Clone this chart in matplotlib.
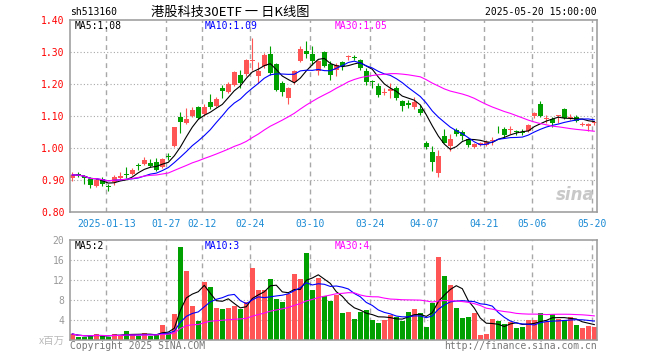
import numpy as np
import pandas as pd
import matplotlib
matplotlib.use("Agg")
import matplotlib.pyplot as plt

# daily K data, 2025-01-03 .. 2025-05-20 (88 trading days)
open_ = [0.906, 0.918, 0.912, 0.902, 0.881, 0.902, 0.879, 0.894, 0.906, 0.919,
         0.919, 0.945, 0.950, 0.954, 0.955, 0.941, 0.975, 1.007, 1.096, 1.078,
         1.100, 1.128, 1.107, 1.143, 1.131, 1.187, 1.176, 1.198, 1.229, 1.232,
         1.272, 1.226, 1.255, 1.295, 1.264, 1.203, 1.155, 1.206, 1.271, 1.303,
         1.295, 1.240, 1.299, 1.264, 1.243, 1.268, 1.284, 1.284, 1.274, 1.240,
         1.208, 1.193, 1.172, 1.177, 1.187, 1.146, 1.141, 1.127, 1.122, 1.015,
         0.986, 0.921, 1.036, 1.007, 1.057, 1.049, 1.027, 1.002, 1.010, 1.010,
         1.023, 1.063, 1.059, 1.055, 1.050, 1.049, 1.052, 1.099, 1.138, 1.090,
         1.090, 1.100, 1.122, 1.095, 1.097, 1.073, 1.068, 1.077]
high = [0.926, 0.926, 0.917, 0.908, 0.905, 0.910, 0.887, 0.916, 0.926, 0.941,
        0.936, 0.952, 0.971, 0.965, 0.970, 0.969, 0.984, 1.067, 1.112, 1.125,
        1.127, 1.130, 1.138, 1.170, 1.158, 1.198, 1.205, 1.240, 1.245, 1.278,
        1.344, 1.268, 1.297, 1.318, 1.266, 1.208, 1.192, 1.244, 1.320, 1.334,
        1.318, 1.276, 1.302, 1.271, 1.266, 1.271, 1.292, 1.292, 1.278, 1.250,
        1.213, 1.203, 1.187, 1.203, 1.193, 1.151, 1.151, 1.159, 1.135, 1.023,
        1.007, 0.994, 1.059, 1.044, 1.062, 1.055, 1.031, 1.015, 1.020, 1.025,
        1.033, 1.069, 1.067, 1.069, 1.057, 1.059, 1.074, 1.111, 1.146, 1.104,
        1.096, 1.104, 1.125, 1.105, 1.102, 1.080, 1.079, 1.085]
low = [0.897, 0.908, 0.888, 0.875, 0.879, 0.882, 0.866, 0.884, 0.900, 0.907,
       0.915, 0.931, 0.946, 0.940, 0.927, 0.937, 0.963, 1.004, 1.048, 1.076,
       1.096, 1.092, 1.100, 1.122, 1.128, 1.156, 1.172, 1.195, 1.187, 1.226,
       1.245, 1.203, 1.250, 1.229, 1.177, 1.161, 1.138, 1.199, 1.268, 1.280,
       1.258, 1.229, 1.253, 1.211, 1.224, 1.243, 1.274, 1.274, 1.245, 1.198,
       1.187, 1.159, 1.166, 1.156, 1.151, 1.117, 1.125, 1.122, 1.102, 0.996,
       0.929, 0.910, 1.015, 0.992, 1.038, 1.025, 1.002, 0.999, 1.007, 1.007,
       1.010, 1.048, 1.034, 1.044, 1.041, 1.041, 1.050, 1.093, 1.096, 1.078,
       1.067, 1.078, 1.090, 1.088, 1.082, 1.069, 1.052, 1.071]
close = [0.916, 0.915, 0.905, 0.884, 0.900, 0.886, 0.877, 0.910, 0.912, 0.917,
         0.931, 0.943, 0.963, 0.945, 0.930, 0.966, 0.972, 1.065, 1.080, 1.091,
         1.118, 1.093, 1.129, 1.128, 1.154, 1.177, 1.199, 1.236, 1.203, 1.274,
         1.276, 1.242, 1.292, 1.234, 1.182, 1.174, 1.188, 1.240, 1.308, 1.295,
         1.271, 1.271, 1.255, 1.229, 1.260, 1.256, 1.287, 1.282, 1.250, 1.206,
         1.205, 1.166, 1.175, 1.184, 1.156, 1.130, 1.134, 1.143, 1.110, 1.002,
         0.957, 0.975, 1.017, 1.029, 1.044, 1.036, 1.010, 1.013, 1.017, 1.020,
         1.026, 1.061, 1.041, 1.057, 1.049, 1.047, 1.072, 1.109, 1.101, 1.092,
         1.078, 1.102, 1.093, 1.097, 1.085, 1.075, 1.076, 1.080]
# volume, x百万
volume = [1.2, 0.7, 0.7, 0.8, 1.2, 0.8, 0.7, 1.2, 0.9, 1.8,
          1.0, 0.8, 1.4, 0.8, 1.2, 3.0, 1.5, 5.2, 18.6, 13.8,
          6.8, 3.9, 11.6, 10.6, 6.4, 6.2, 6.4, 6.9, 6.2, 7.6,
          14.4, 10.0, 10.0, 12.2, 8.2, 7.7, 9.2, 13.2, 12.2, 17.4,
          10.0, 12.4, 8.9, 7.9, 9.1, 5.4, 5.6, 4.2, 5.6, 6.0,
          4.0, 3.4, 4.0, 5.0, 4.7, 3.8, 5.6, 6.2, 5.4, 2.6,
          7.5, 16.6, 12.8, 11.0, 6.4, 4.5, 4.6, 5.4, 1.0, 1.3,
          4.2, 3.8, 3.2, 3.6, 2.4, 2.6, 4.0, 4.0, 5.4, 3.6,
          5.2, 4.2, 4.0, 4.6, 3.0, 2.4, 2.8, 2.6]

tick_idx = [6, 16, 22, 30, 40, 50, 59, 69, 77, 87]
tick_lbl = ["2025-01-13", "01-27", "02-12", "02-24", "03-10",
            "03-24", "04-07", "04-21", "05-06", "05-20"]
price_ticks = [0.80, 0.90, 1.00, 1.10, 1.20, 1.30, 1.40]
vol_ticks = [4, 8, 12, 16, 20]

RED = '#ff5555'
GREEN = '#00a000'
GRID = '#a8a8a8'
FRAME = '#999999'
MONO = 'DejaVu Sans Mono'
CJK = ['Noto Sans CJK SC', 'DejaVu Sans']
FS = 7

df = pd.DataFrame({'o': open_, 'h': high, 'l': low, 'c': close, 'v': volume})
x = np.arange(len(df))
col = np.where(df.c >= df.o, RED, GREEN)

fig = plt.figure(figsize=(6.6, 3.6), dpi=100)
ax = fig.add_axes([70 / 660, 1 - 212 / 360, 527 / 660, 192 / 360])
axv = fig.add_axes([70 / 660, 1 - 340 / 360, 527 / 660, 100 / 360])

for a in (ax, axv):
    a.set_xlim(-2.3 / 6, 87 + 2.7 / 6)
    for s in a.spines.values():
        s.set_color(FRAME)
        s.set_linewidth(1.1)
    a.tick_params(length=0, labelsize=FS)
    for t in tick_idx:
        a.axvline(t - 1 / 3, color=GRID, lw=1.0, ls=(0, (3.5, 3)), zorder=0)

# --- price panel
ax.set_ylim(0.80, 1.40)
ax.set_yticks(price_ticks, ['%.2f' % p for p in price_ticks], color='red',
              fontfamily=MONO)
ax.tick_params(axis='y', pad=4)
for p in price_ticks[1:-1]:
    ax.axhline(p, color=GRID, lw=0.8, ls=(0, (1, 2)), zorder=0)

body_lo = np.minimum(df.o, df.c)
body_h = np.maximum(np.abs(df.c - df.o), 0.003)
ax.vlines(x, df.l, df.h, colors=col, lw=0.8, zorder=2)
ax.bar(x, body_h, bottom=body_lo, width=0.8, color=col, lw=0, zorder=2)

ma5 = df.c.rolling(5, min_periods=1).mean()
ma10 = df.c.rolling(10, min_periods=1).mean()
ma30 = df.c.rolling(30, min_periods=1).mean()
ax.plot(x, ma5, color='black', lw=0.8, zorder=3)
ax.plot(x, ma10, color='#0000ff', lw=0.8, zorder=3)
ax.plot(x, ma30, color='#ff00ff', lw=0.8, zorder=3)

ax.set_xticks([t - 1 / 3 for t in tick_idx], tick_lbl, color='#1a8ad4',
              fontfamily=MONO)
ax.tick_params(axis='x', pad=5)

ax.text(4.7 / 527, 1 - 6 / 192, 'MA5:1.08', transform=ax.transAxes,
        fontsize=FS, family=MONO, color='black', va='center')
ax.text(134.3 / 527, 1 - 6 / 192, 'MA10:1.09', transform=ax.transAxes,
        fontsize=FS, family=MONO, color='#0000ff', va='center')
ax.text(265 / 527, 1 - 6 / 192, 'MA30:1.05', transform=ax.transAxes,
        fontsize=FS, family=MONO, color='#ff00ff', va='center')
ax.text(0.995, 0.04, 'sina', transform=ax.transAxes, fontsize=12,
        fontweight='bold', style='italic', color='#c8c8c8', ha='right',
        va='bottom', zorder=1)

# --- volume panel
axv.set_ylim(0, 20)
axv.set_yticks(vol_ticks, [str(v) for v in vol_ticks], color=FRAME,
               fontfamily=MONO)
axv.tick_params(axis='y', pad=4)
axv.set_xticks([])
for v in vol_ticks[:-1]:
    axv.axhline(v, color=GRID, lw=0.8, ls=(0, (1, 2)), zorder=0)
axv.bar(x, df.v, width=0.85, color=col, lw=0, zorder=2)
axv.plot(x, df.v.rolling(5, min_periods=1).mean(), color='black', lw=0.8, zorder=3)
axv.plot(x, df.v.rolling(10, min_periods=1).mean(), color='#0000ff', lw=0.8, zorder=3)
axv.plot(x, df.v.rolling(30, min_periods=1).mean(), color='#ff00ff', lw=0.8, zorder=3)

axv.text(4.7 / 527, 1 - 6 / 100, 'MA5:2', transform=axv.transAxes,
         fontsize=FS, family=MONO, color='black', va='center')
axv.text(134.3 / 527, 1 - 6 / 100, 'MA10:3', transform=axv.transAxes,
         fontsize=FS, family=MONO, color='#0000ff', va='center')
axv.text(265 / 527, 1 - 6 / 100, 'MA30:4', transform=axv.transAxes,
         fontsize=FS, family=MONO, color='#ff00ff', va='center')

# --- header / footer
fig.text(70 / 660, 1 - 12 / 360, 'sh513160', fontsize=FS, family=MONO,
         va='center', ha='left')
fig.text(230 / 660, 1 - 12 / 360, '港股科技30ETF 一 日K线图', fontsize=9.5,
         family=CJK, va='center', ha='center')
fig.text(597 / 660, 1 - 12 / 360, '2025-05-20 15:00:00', fontsize=FS,
         family=MONO, va='center', ha='right')
fig.text(65 / 660, 1 - 341 / 360, 'x百万', fontsize=7.5, family=CJK,
         color='#bbbbbb', va='center', ha='right')
fig.text(70 / 660, 1 - 346 / 360, 'Copyright 2025 SINA.COM', fontsize=FS,
         family=MONO, color='#777777', va='center', ha='left')
fig.text(597 / 660, 1 - 346 / 360, 'http://finance.sina.com.cn', fontsize=FS,
         family=MONO, color='#777777', va='center', ha='right')

fig.savefig('out.png', dpi=100)
